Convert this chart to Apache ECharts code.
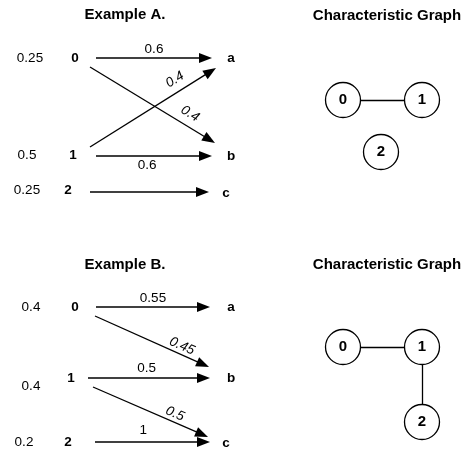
<!DOCTYPE html>
<html><head><meta charset="utf-8">
<script src="https://cdn.jsdelivr.net/npm/echarts@6/dist/echarts.min.js"></script>
<style>html,body{margin:0;padding:0;background:#fff}#c{width:468px;height:455px}</style>
</head><body><div id="c"></div>
<script>
// ---------- data ----------
const titleA = 'Example A.';
const titleB = 'Example B.';
const graphTitle = 'Characteristic Graph';
const sources = ['0', '1', '2'];
const targets = ['a', 'b', 'c'];
const priorsA = [0.25, 0.5, 0.25];
const priorsB = [0.4, 0.4, 0.2];
// [source index, target index, transition probability]
const linksA = [[0, 0, 0.6], [0, 1, 0.4], [1, 0, 0.4], [1, 1, 0.6], [2, 2, null]];
const linksB = [[0, 0, 0.55], [0, 1, 0.45], [1, 1, 0.5], [1, 2, 0.5], [2, 2, 1]];
const graphNodes = ['0', '1', '2'];
const graphEdgesA = [[0, 1]];
const graphEdgesB = [[0, 1], [1, 2]];

// ---------- layout (axis units) ----------
const layoutA = {
  title: [125, 15], graphTitle: [387, 16],
  priorPos: [[30, 58], [27, 155], [27, 190]],
  sourcePos: [[75, 58], [73, 155], [68, 190]],
  targetPos: [[231, 58], [231, 156], [226, 193]],
  linkPath: [[96, 58, 212, 58], [90, 67, 215, 143], [90, 147, 216, 68], [96, 156, 212, 156], [90, 192, 209, 192]],
  labelAt: [[0.5, 9], [0.75, 12], [0.725, 12], [0.44, -9], [0.5, 0]],
  nodePos: [[343, 100], [422, 100], [381, 152]]
};
const layoutB = {
  title: [125, 265], graphTitle: [387, 265],
  priorPos: [[31, 307], [31, 386], [24, 442]],
  sourcePos: [[75, 307], [71, 378], [68, 442]],
  targetPos: [[231, 307], [231, 378], [226, 443]],
  linkPath: [[96, 307, 210, 307], [95, 316, 209, 367], [88, 378, 210, 378], [93, 387, 208, 437], [95, 442, 210, 442]],
  labelAt: [[0.5, 9], [0.734, 8], [0.48, 10], [0.685, 8], [0.42, 12]],
  nodePos: [[343, 347], [422, 347], [422, 422]]
};

const FONT = '"Liberation Sans", Arial, Helvetica, sans-serif';
const FS = '13.5px ';

function buildTexts(title, priors, layout) {
  const items = [];
  items.push([layout.title[0], layout.title[1], title, 'bold 15px ' + FONT]);
  items.push([layout.graphTitle[0], layout.graphTitle[1], graphTitle, 'bold 15px ' + FONT]);
  priors.forEach((p, i) => items.push([layout.priorPos[i][0], layout.priorPos[i][1], String(p), FS + FONT]));
  sources.forEach((s, i) => items.push([layout.sourcePos[i][0], layout.sourcePos[i][1], s, 'bold ' + FS + FONT]));
  targets.forEach((t, i) => items.push([layout.targetPos[i][0], layout.targetPos[i][1], t, 'bold ' + FS + FONT]));
  return items;
}

function textSeries(items) {
  return {
    type: 'custom', coordinateSystem: 'cartesian2d', silent: true,
    data: items.map(it => [it[0], it[1]]),
    renderItem: function (params, api) {
      const it = items[params.dataIndex];
      const p = api.coord([it[0], it[1]]);
      return { type: 'text', x: p[0], y: p[1],
        style: { text: it[2], fill: '#000', font: it[3], align: 'center', verticalAlign: 'middle' } };
    }
  };
}

function linkSeries(links, layout) {
  return {
    type: 'custom', coordinateSystem: 'cartesian2d', silent: true,
    data: links.map(l => [l[0], l[1]]),
    renderItem: function (params, api) {
      const i = params.dataIndex;
      const path = layout.linkPath[i];
      const s = api.coord([path[0], path[1]]);
      const e = api.coord([path[2], path[3]]);
      const dx = e[0] - s[0], dy = e[1] - s[1];
      const L = Math.hypot(dx, dy), ux = dx / L, uy = dy / L;
      const AL = 13, AW = 5;
      const bx = e[0] - ux * AL, by = e[1] - uy * AL;
      const children = [
        { type: 'line', shape: { x1: s[0], y1: s[1], x2: bx + ux, y2: by + uy },
          style: { stroke: '#000', lineWidth: 1.3 } },
        { type: 'polygon', shape: { points: [[e[0], e[1]], [bx - uy * AW, by + ux * AW], [bx + uy * AW, by - ux * AW]] },
          style: { fill: '#000' } }
      ];
      const v = links[i][2];
      if (v != null) {
        const la = layout.labelAt[i];
        const nx = uy, ny = -ux;
        const px = s[0] + dx * la[0] + nx * la[1];
        const py = s[1] + dy * la[0] + ny * la[1];
        const diag = Math.abs(dy) > 1;
        children.push({ type: 'text', x: px, y: py, rotation: diag ? -Math.atan2(dy, dx) : 0,
          style: { text: String(v), fill: '#000', font: (diag ? 'italic ' : '') + FS + FONT,
            align: 'center', verticalAlign: 'middle' } });
      }
      return { type: 'group', children: children };
    }
  };
}

function graphSeries(edges, layout) {
  return {
    type: 'graph', coordinateSystem: 'cartesian2d', silent: true,
    symbol: 'circle', symbolSize: 35,
    itemStyle: { color: '#fff', borderColor: '#000', borderWidth: 1.3 },
    label: { show: true, position: 'inside', color: '#000', fontWeight: 'bold', fontSize: 15, fontFamily: FONT, formatter: '{b}' },
    lineStyle: { color: '#000', width: 1.3, opacity: 1, curveness: 0 },
    emphasis: { disabled: true },
    data: graphNodes.map((n, i) => ({ name: n, value: layout.nodePos[i] })),
    links: edges.map(e => ({ source: graphNodes[e[0]], target: graphNodes[e[1]] }))
  };
}

const chart = echarts.init(document.getElementById('c'), null, { renderer: 'canvas' });
chart.setOption({
  animation: false,
  backgroundColor: '#fff',
  grid: { left: 0, right: 0, top: 0, bottom: 0 },
  xAxis: { type: 'value', min: 0, max: 468, show: false },
  yAxis: { type: 'value', min: 0, max: 455, inverse: true, show: false },
  series: [
    linkSeries(linksA, layoutA),
    linkSeries(linksB, layoutB),
    textSeries(buildTexts(titleA, priorsA, layoutA)),
    textSeries(buildTexts(titleB, priorsB, layoutB)),
    graphSeries(graphEdgesA, layoutA),
    graphSeries(graphEdgesB, layoutB)
  ]
});
</script>
</body></html>
